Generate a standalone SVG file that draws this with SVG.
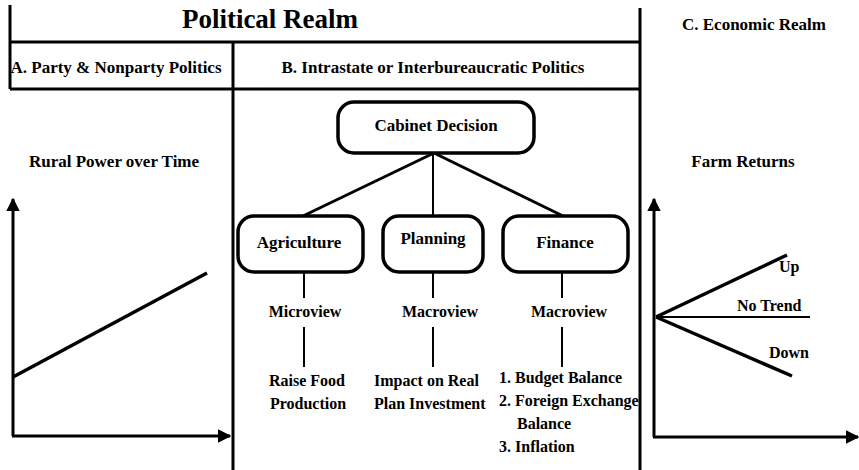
<svg xmlns="http://www.w3.org/2000/svg" width="859" height="470" viewBox="0 0 859 470" font-family="'Liberation Serif', 'DejaVu Serif', serif">
  <style>
    text { font-family: "Liberation Serif", "DejaVu Serif", "Times New Roman", serif; font-weight: bold; fill: #000; }
    .head { font-size: 17px; }
    .label { font-size: 17px; text-anchor: middle; }
    .body { font-size: 16px; }
    .mid { text-anchor: middle; }
    .frame { stroke: #000; stroke-width: 3; fill: none; }
    .box { stroke: #000; stroke-width: 3.5; fill: #fff; }
    .link { stroke: #000; stroke-width: 3; fill: none; }
    .stem { stroke: #000; stroke-width: 2; fill: none; }
    .axis { stroke: #000; stroke-width: 3; fill: none; }
    .trend { stroke: #000; stroke-width: 3.5; fill: none; }
  </style>
  <defs>
    <marker id="arrow" viewBox="0 0 10 10" refX="9" refY="5" markerWidth="4.5" markerHeight="4.5" orient="auto" markerUnits="strokeWidth">
      <path d="M0,0 L10,5 L0,10 Z" fill="#000"/>
    </marker>
  </defs>

  <!-- realm frame -->
  <g id="frame">
    <line class="frame" x1="10" y1="5" x2="10" y2="89"/>
    <line class="frame" x1="10" y1="42" x2="641" y2="42"/>
    <line class="frame" x1="10" y1="89" x2="641" y2="89"/>
    <line class="frame" x1="233" y1="42" x2="233" y2="470"/>
    <line class="frame" x1="640" y1="8" x2="640" y2="470"/>
    <text x="270" y="28" class="mid" style="font-size:27px">Political Realm</text>
    <text x="116" y="73" class="head mid">A. Party &amp; Nonparty Politics</text>
    <text x="433" y="73" class="head mid">B. Intrastate or Interbureaucratic Politics</text>
    <text x="754" y="30" class="head mid">C. Economic Realm</text>
  </g>

  <!-- rural power chart -->
  <g id="rural-chart">
    <text x="114" y="167" class="head mid">Rural Power over Time</text>
    <line class="axis" x1="13" y1="436" x2="13" y2="199" marker-end="url(#arrow)"/>
    <line class="axis" x1="12" y1="436" x2="230" y2="436" marker-end="url(#arrow)"/>
    <line class="trend" x1="13" y1="377" x2="207" y2="273"/>
  </g>

  <!-- ministry connectors -->
  <g id="connectors">
    <line class="link" x1="434" y1="153" x2="303" y2="216"/>
    <line class="stem" x1="433" y1="153" x2="433" y2="216"/>
    <line class="link" x1="434" y1="153" x2="563" y2="216"/>
    <line class="stem" x1="304" y1="272" x2="304" y2="298"/>
    <line class="stem" x1="304" y1="327" x2="304" y2="367"/>
    <line class="stem" x1="433" y1="272" x2="433" y2="298"/>
    <line class="stem" x1="433" y1="327" x2="433" y2="367"/>
    <line class="stem" x1="562" y1="272" x2="562" y2="298"/>
    <line class="stem" x1="562" y1="327" x2="562" y2="367"/>
  </g>

  <g id="cabinet">
    <rect class="box" x="338" y="102" width="196" height="51" rx="16"/>
    <text x="436" y="131" class="label">Cabinet Decision</text>
  </g>

  <g id="agriculture">
    <rect class="box" x="238" y="216" width="125" height="56" rx="16"/>
    <text x="299" y="248" class="label">Agriculture</text>
    <text x="305" y="317" class="body mid">Microview</text>
    <text x="307" y="386" class="body mid">Raise Food</text>
    <text x="308" y="409" class="body mid">Production</text>
  </g>

  <g id="planning">
    <rect class="box" x="383" y="216" width="100" height="56" rx="16"/>
    <text x="433" y="244" class="label">Planning</text>
    <text x="440" y="317" class="body mid">Macroview</text>
    <text x="374" y="386" class="body">Impact on Real</text>
    <text x="374" y="409" class="body">Plan Investment</text>
  </g>

  <g id="finance">
    <rect class="box" x="503" y="216" width="125" height="56" rx="16"/>
    <text x="565" y="248" class="label">Finance</text>
    <text x="569" y="317" class="body mid">Macroview</text>
    <text x="499" y="383" class="body">1. Budget Balance</text>
    <text x="499" y="406" class="body">2. Foreign Exchange</text>
    <text x="517" y="429" class="body">Balance</text>
    <text x="499" y="452" class="body">3. Inflation</text>
  </g>

  <!-- farm returns chart -->
  <g id="farm-chart">
    <text x="743" y="167" class="head mid">Farm Returns</text>
    <line class="axis" x1="654" y1="437" x2="654" y2="199" marker-end="url(#arrow)"/>
    <line class="axis" x1="653" y1="437" x2="858" y2="437" marker-end="url(#arrow)"/>
    <line class="trend" x1="656" y1="317" x2="787" y2="255"/>
    <line class="stem" x1="656" y1="317" x2="810" y2="317"/>
    <line class="trend" x1="656" y1="317" x2="792" y2="376"/>
    <text x="779" y="272" class="body">Up</text>
    <text x="737" y="311" class="body">No Trend</text>
    <text x="769" y="358" class="body">Down</text>
  </g>
</svg>
